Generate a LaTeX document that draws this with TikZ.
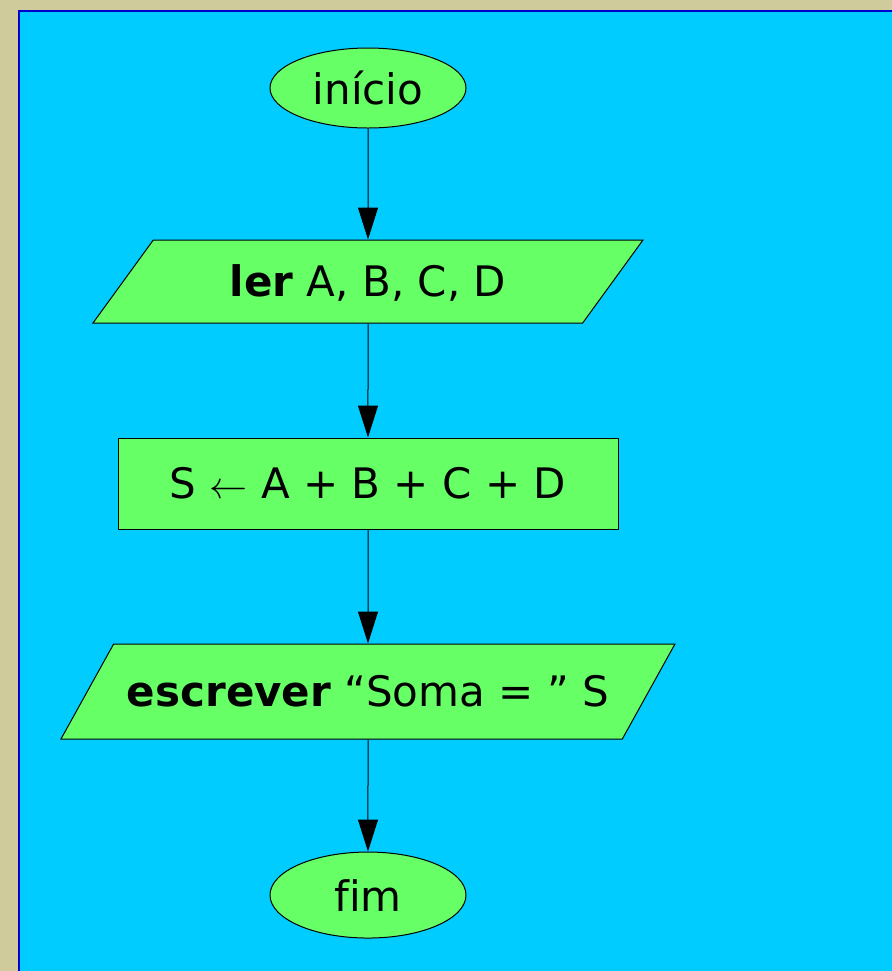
\documentclass[tikz,border=0pt]{standalone}
\usepackage{fontspec}
\setmainfont[Ligatures=NoCommon]{DejaVu Sans}
\usepackage{graphicx}
\usetikzlibrary{arrows.meta,positioning,shapes.geometric}
\definecolor{khaki}{RGB}{207,203,155}
\definecolor{sky}{RGB}{0,204,255}
\definecolor{navyline}{RGB}{0,0,204}
\definecolor{lime}{RGB}{102,255,102}
\tikzset{
  term/.style={ellipse, draw=black, line width=0.5pt, fill=lime,
    minimum width=98pt, minimum height=40pt, inner sep=0pt,
    font=\fontsize{21}{24}\selectfont},
  io/.style={trapezium, trapezium stretches body, draw=black, line width=0.5pt,
    fill=lime, inner xsep=0pt, inner ysep=0pt, text depth=#1/2-7.6pt,
    text height=#1/2+7.6pt, font=\fontsize{21}{24}\selectfont},
  proc/.style={rectangle, draw=black, line width=0.5pt, fill=lime,
    minimum width=250pt, minimum height=45.5pt, inner sep=0pt,
    font=\fontsize{21}{24}\selectfont},
  flow/.style={-{Triangle[length=16pt,width=10pt]}, draw=black, line width=0.5pt},
}
\newcommand{\getsarrow}{\resizebox{19pt}{!}{$\leftarrow$}}

\begin{document}
\begin{tikzpicture}[x=0.5pt, y=-0.5pt, node distance=57pt]
  \useasboundingbox (0,0) rectangle (892,971);
  % page and slide background
  \fill[khaki] (0,0) rectangle (892,971);
  \fill[sky] (19,11) rectangle (892,971);
  \draw[navyline, line width=1pt] (19,971) |- (892,11);

  \node[term] (inicio) at (368,88) {início};
  \node[io=41.5pt, below=55.5pt of inicio, minimum width=275pt,
    trapezium left angle=54, trapezium right angle=126] (ler)
    {\textbf{ler} A, B, C, D};
  \node[proc, below=of ler] (soma) {S \getsarrow{} A + B + C + D};
  \node[io=47.5pt, below=of soma, minimum width=307pt,
    trapezium left angle=61, trapezium right angle=119] (escrever)
    {\textbf{escrever} “Soma = ” S};
  \node[term, below=56pt of escrever, minimum height=43pt] (fim) {fim};

  \draw[flow] (inicio) -- (ler);
  \draw[flow] (ler) -- (soma);
  \draw[flow] (soma) -- (escrever);
  \draw[flow] (escrever) -- (fim);
\end{tikzpicture}
\end{document}
